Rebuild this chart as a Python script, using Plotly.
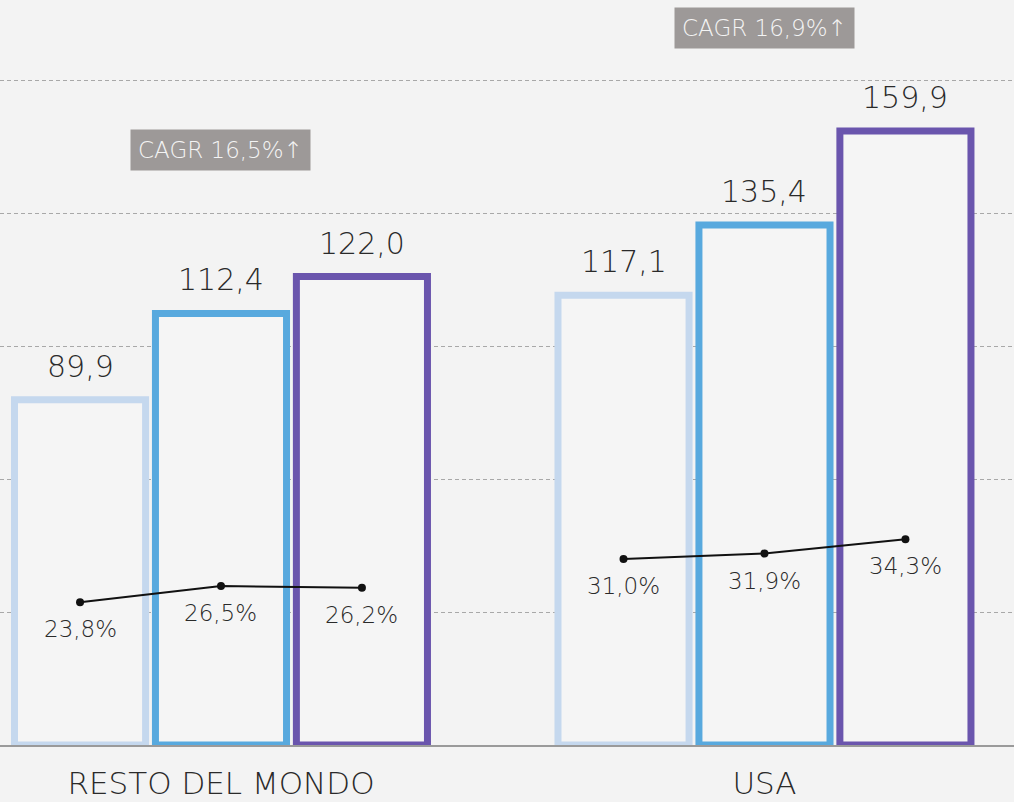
import plotly.graph_objects as go

# ---- data ----
categories = ["RESTO DEL MONDO", "USA"]
series_names = ["Anno 1", "Anno 2", "Anno 3"]
series_values = [
    [89.9, 117.1],
    [112.4, 135.4],
    [122.0, 159.9],
]
share_values = [
    [23.8, 26.5, 26.2],
    [31.0, 31.9, 34.3],
]
cagr_labels = ["CAGR 16,5%\u2191", "CAGR 16,9%\u2191"]

# ---- style ----
bar_colors = ["#c5d8ee", "#58a9de", "#6a55ad"]
bg = "#f3f3f3"
text_color = "#2a2a2a"
font_family = "'DejaVu Sans', sans-serif"
bargap = 0.222
bargroupgap = 0.07
slot = (1 - bargap) / len(series_names)

def fmt(v, pct=False):
    s = f"{v:.1f}".replace(".", ",")
    return s + "%" if pct else s

fig = go.Figure()
xs = list(range(len(categories)))

for i, name in enumerate(series_names):
    fig.add_trace(go.Bar(
        x=xs, y=series_values[i], name=name,
        marker=dict(color="#f5f5f5", line=dict(color=bar_colors[i], width=7)),
        showlegend=False, hoverinfo="skip",
    ))

# line (secondary axis) per group
lx, ly = [], []
for g, vals in enumerate(share_values):
    for j, v in enumerate(vals):
        lx.append(g + (j - 1) * slot)
        ly.append(v)
    lx.append(None)
    ly.append(None)
fig.add_trace(go.Scatter(
    x=lx, y=ly, yaxis="y2", mode="lines+markers",
    line=dict(color="#111111", width=2),
    marker=dict(color="#111111", size=8),
    showlegend=False, hoverinfo="skip", connectgaps=False,
))

annotations = []
# bar value labels
for i in range(len(series_names)):
    for g in xs:
        annotations.append(dict(
            x=g + (i - 1) * slot, y=series_values[i][g], xref="x", yref="y",
            text=fmt(series_values[i][g]), showarrow=False,
            yanchor="bottom", yshift=14,
            font=dict(family=font_family, size=30, color=text_color, weight=200),
        ))
# percentage labels
for g, vals in enumerate(share_values):
    for j, v in enumerate(vals):
        annotations.append(dict(
            x=g + (j - 1) * slot, y=v, xref="x", yref="y2",
            text=fmt(v, pct=True), showarrow=False,
            yanchor="top", yshift=-12,
            font=dict(family=font_family, size=23, color=text_color, weight=200),
        ))
# CAGR boxes
cagr_y = [0.799, 0.962]
for g, lab in enumerate(cagr_labels):
    annotations.append(dict(
        x=g, y=cagr_y[g], xref="x", yref="paper",
        text=lab, showarrow=False, yanchor="middle",
        bgcolor="#9d9998", borderpad=7,
        font=dict(family=font_family, size=23, color="#f4f4f4", weight=200),
    ))

px_per_unit = 3.84
plot_h = 745

fig.update_layout(
    width=1014, height=802,
    margin=dict(l=0, r=0, t=0, b=57, autoexpand=False),
    paper_bgcolor=bg, plot_bgcolor=bg,
    barmode="group", bargap=bargap, bargroupgap=bargroupgap,
    annotations=annotations,
    xaxis=dict(
        range=[-0.4066, 1.4591], tickvals=xs, ticktext=categories, automargin=False,
        showgrid=False, zeroline=False, showline=True, linecolor="#9a9a9a", linewidth=1.5,
        ticks="", ticklabelstandoff=10,
        tickfont=dict(family=font_family, size=31, color=text_color, weight=200),
    ),
    yaxis=dict(
        range=[0, plot_h / px_per_unit], tick0=0, dtick=133 / px_per_unit, automargin=False,
        showgrid=True, gridcolor="#a8a8a8", gridwidth=1, griddash="4px,3px",
        showticklabels=False, zeroline=False, ticks="",
    ),
    yaxis2=dict(
        range=[0, plot_h / 6.0], overlaying="y", showgrid=False, automargin=False,
        showticklabels=False, zeroline=False, ticks="",
    ),
)

fig.write_html(
    "out.html",
    config={"displayModeBar": False},
    post_script="document.body.style.margin='0';document.body.style.overflow='hidden';",
)
